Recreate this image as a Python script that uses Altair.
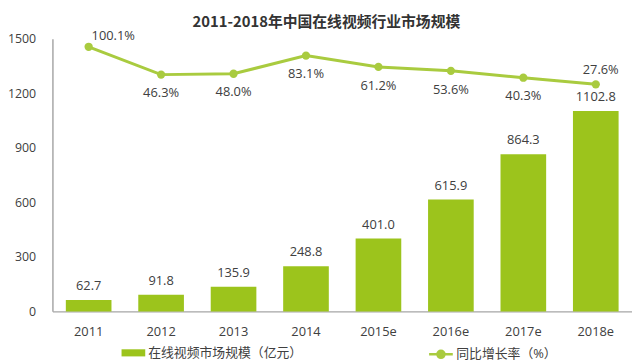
import altair as alt
import pandas as pd

years = ["2011", "2012", "2013", "2014", "2015e", "2016e", "2017e", "2018e"]
market = [62.7, 91.8, 135.9, 248.8, 401.0, 615.9, 864.3, 1102.8]
growth = [100.1, 46.3, 48.0, 83.1, 61.2, 53.6, 40.3, 27.6]
bar_name = "在线视频市场规模（亿元）"
line_name = "同比增长率（%）"
title_text = "2011-2018年中国在线视频行业市场规模"

BAR = "#9cc41c"
LINE = "#a9cb3f"
TXT = "#404040"
FONT = "Open Sans, Noto Sans CJK SC"

df = pd.DataFrame({"year": years, "market": market, "growth": growth})
df["bar_series"] = bar_name
df["line_series"] = line_name

x = alt.X("year:N", sort=years, title=None,
          scale=alt.Scale(paddingInner=0.37, paddingOuter=0.185),
          axis=alt.Axis(labelAngle=0, ticks=False, domainColor="#a6a6a6", domainWidth=1.5,
                        labelPadding=14, labelFontSize=13, labelColor=TXT, labelFont=FONT))

base = alt.Chart(df)

bars = base.mark_bar().encode(
    x=x,
    y=alt.Y("market:Q", title=None, scale=alt.Scale(domain=[0, 1500], nice=False),
            axis=alt.Axis(values=[0, 300, 600, 900, 1200, 1500], format="d", grid=False, ticks=False,
                          domainColor="#a6a6a6", domainWidth=1.5, labelPadding=17,
                          labelFontSize=12.5, labelColor=TXT, labelFont=FONT)),
    fill=alt.Fill("bar_series:N", scale=alt.Scale(range=[BAR]),
                  legend=alt.Legend(orient="none", legendX=70, legendY=306, title=None,
                                    symbolType="M-1,-0.3H1V0.3H-1Z", symbolSize=576,
                                    symbolStrokeWidth=0, labelOffset=3, labelFontSize=13,
                                    labelColor=TXT, labelFont=FONT, padding=0)),
)
bar_text = base.mark_text(baseline="middle", dy=-14, fontSize=13, color=TXT, font=FONT).encode(
    x=alt.X("year:N", sort=years),
    y=alt.Y("market:Q", scale=alt.Scale(domain=[0, 1500], nice=False)),
    text=alt.Text("market:Q", format=".1f"),
)
left = alt.layer(bars, bar_text)

yp = alt.Y("growth:Q", scale=alt.Scale(domain=[-411.3, 115.4], nice=False, zero=False), axis=None)

line = base.mark_line(strokeWidth=3).encode(
    x=alt.X("year:N", sort=years),
    y=yp,
    stroke=alt.Stroke("line_series:N", scale=alt.Scale(range=[LINE]),
                      legend=alt.Legend(orient="none", legendX=380, legendY=306, title=None,
                                        symbolType="M-1,0H1M0.3,0A0.3,0.3 0 1,1 -0.3,0A0.3,0.3 0 1,1 0.3,0",
                                        symbolSize=576, symbolStrokeWidth=2.5,
                                        symbolFillColor=LINE, labelOffset=2, labelFontSize=13,
                                        labelColor=TXT, labelFont=FONT, padding=0)),
)
pts = base.mark_point(filled=True, size=70, color=LINE, opacity=1).encode(
    x=alt.X("year:N", sort=years), y=yp)

pct_label = "format(datum.growth, '.1f') + '%'"
t_first = base.transform_filter(alt.FieldEqualPredicate(field="year", equal="2011")).transform_calculate(
    lbl=pct_label).mark_text(align="left", baseline="middle", dx=3, dy=-11, fontSize=13, color=TXT, font=FONT).encode(
    x=alt.X("year:N", sort=years), y=yp, text="lbl:N")
t_last = base.transform_filter(alt.FieldEqualPredicate(field="year", equal="2018e")).transform_calculate(
    lbl=pct_label).mark_text(align="center", baseline="middle", dx=5, dy=-14, fontSize=13, color=TXT, font=FONT).encode(
    x=alt.X("year:N", sort=years), y=yp, text="lbl:N")
t_mid = base.transform_filter(
    alt.FieldOneOfPredicate(field="year", oneOf=years[1:-1])).transform_calculate(
    lbl=pct_label).mark_text(align="center", baseline="middle", dy=19, fontSize=13, color=TXT, font=FONT).encode(
    x=alt.X("year:N", sort=years), y=yp, text="lbl:N")

right = alt.layer(line, pts, t_first, t_last, t_mid)

chart = alt.layer(left, right).resolve_scale(y="independent").properties(
    width=587, height=276,
    autosize=alt.AutoSizeParams(type="none"),
    padding={"left": 45, "top": 29, "right": 0, "bottom": 49},
    title=alt.TitleParams(title_text, fontSize=15, font="Noto Sans CJK SC", fontWeight="bold",
                          color="#333333", anchor="middle", dx=-16, offset=0),
).configure_view(stroke=None)

chart.save("out.html", embed_options={"renderer": "svg", "actions": False})
